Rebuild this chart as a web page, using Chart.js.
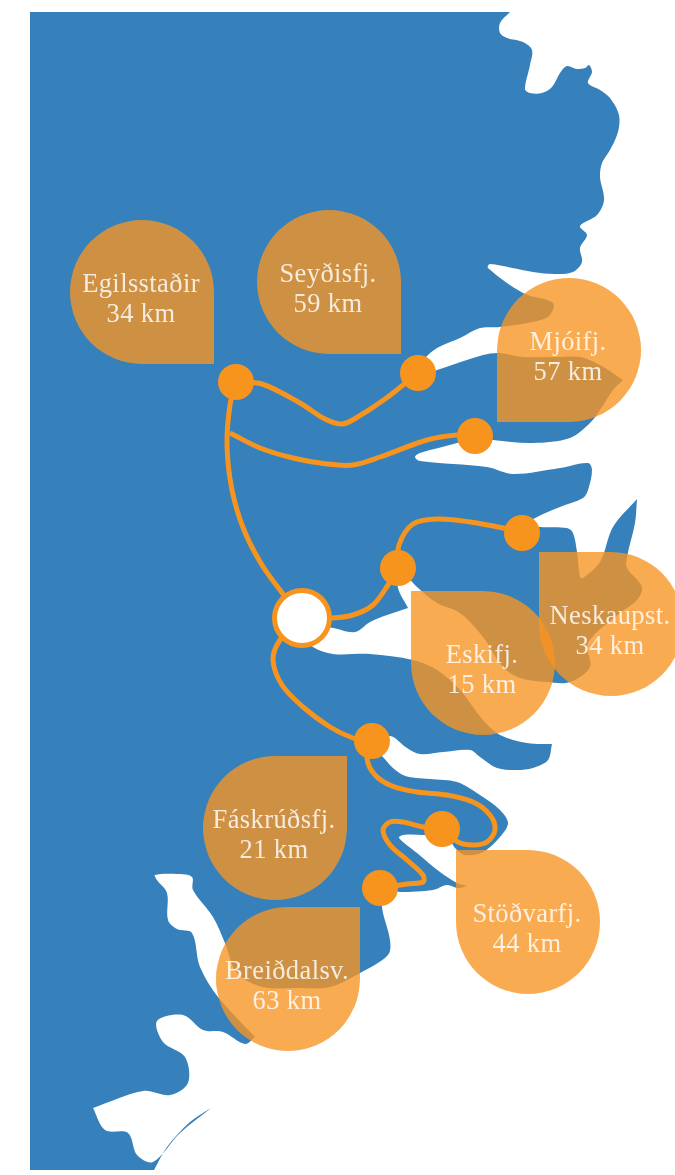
<!DOCTYPE html>
<html>
<head>
<meta charset="utf-8">
<style>
  html, body { margin: 0; padding: 0; background: #fff; }
  canvas { display: block; }
</style>
<script src="https://cdn.jsdelivr.net/npm/chart.js@4"></script>
</head>
<body>
<canvas id="map" width="675" height="1175"></canvas>
<script>
// outline of the land, clockwise. doubled points are sharp corners
const coastNorth = [[30,12],[30,12],[510,12],[510,12],[500,23],[500,33],[507,38],[523,42],[532,50],[530,65],[525,89],[530,93],[542,93],[552,87],[560,73],[567,66],[577,69],[585,68],[589,65],[592,72],[588,83],[600,90],[610,98],[619,115],[618,132],[610,150],[602,163],[600,177],[604,200],[597,215],[580,226],[587,235],[580,248],[582,262],[573,272],[555,274],[533,272],[490,264],[488,268],[523,293],[553,303]];
const coastMjoi = [[553,303],[550,315],[537,321],[500,327],[480,328],[460,338],[437,348],[425,358],[418,366],[425,374],[437,370],[483,355],[500,353],[523,357],[557,357],[580,357],[600,365],[623,380],[623,380],[613,390],[600,410],[590,423],[570,438],[533,443],[493,440],[475,436],[457,443],[420,453],[415,457],[420,461],[487,467],[513,474],[560,468],[588,463],[592,470],[588,490],[583,498],[560,507],[537,517],[525,525],[540,527],[567,528],[573,533],[577,552],[580,577],[583,578],[600,562],[613,527],[637,499],[637,499],[635,523],[627,557],[627,568],[642,587],[637,600],[620,613],[588,643]];
const coastEski = [[588,643],[590,667],[570,682],[547,682],[520,678],[503,667],[483,637],[460,613],[437,603],[417,587],[410,580],[400,575],[398,588],[408,608],[408,608],[387,615],[370,622],[355,632],[333,628],[310,625],[305,635],[313,647],[333,654],[370,654],[413,660],[437,670],[460,690],[483,720],[500,735],[527,743],[552,744],[552,744],[548,760],[533,768],[517,770],[497,768],[480,757],[470,750],[443,752],[420,754],[407,748],[390,736],[378,745],[383,757],[403,775]];
const coastSouth = [[403,775],[430,779],[457,782],[480,795],[500,810],[508,823],[500,837],[483,852],[465,855],[455,848],[448,838],[423,835],[403,835],[399,838],[417,853],[440,872],[457,883],[467,886],[467,886],[458,888],[447,885],[433,890],[400,892],[385,890],[382,907],[390,940],[388,955],[360,973],[330,987],[297,988],[263,987],[237,973],[225,943],[213,917],[193,890],[192,877],[177,874],[155,875],[157,880],[167,893],[168,920],[177,929],[192,933],[200,967],[218,997],[255,1037],[255,1037],[245,1044],[223,1032],[203,1030],[183,1015],[157,1021],[163,1042],[185,1057],[188,1083],[170,1095],[143,1091],[93,1108],[93,1108],[105,1130],[128,1133],[137,1155],[153,1162],[180,1133],[211,1108],[211,1108],[190,1122],[167,1147],[154,1170],[154,1170],[30,1170],[30,1170]];

// roads
const roadSeydis = [[236,382],[262,384],[300,403],[325,419],[342,424],[356,418],[385,399],[418,373]];
const roadEgils = [[302,618],[283,594],[262,565],[244,530],[232,490],[227,445],[230,405],[236,382]];
const roadMjoi = [[230,433],[260,448],[293,458],[327,464],[353,465],[380,457],[427,440],[457,435],[475,436]];
const roadEski = [[302,618],[332,618],[353,615],[373,605],[388,585],[398,568]];
const roadNes = [[398,568],[399,545],[413,524],[437,519],[470,522],[503,528],[522,533]];
const roadFask = [[302,618],[280,640],[273,660],[282,685],[303,707],[330,727],[353,738],[372,741]];
const roadSouth = [[372,741],[367,758],[375,775],[392,786],[417,792],[447,795],[473,802],[490,815],[495,830],[487,842],[473,845],[458,842],[442,829],[423,827],[403,822],[390,822],[383,830],[390,845],[407,860],[423,875],[423,882],[407,884],[380,888]];

const towns = [[236,382],[418,373],[475,436],[522,533],[398,568],[372,741],[442,829],[380,888]];
const hub = [[302,618]];

const placeNames = ["Egilsstaðir","Seyðisfj.","Mjóifj.","Neskaupst.","Eskifj.","Fáskrúðsfj.","Breiðdalsv.","Stöðvarfj."];
const distances = ["34 km","59 km","57 km","34 km","15 km","21 km","63 km","44 km"];
const dropCentres = [[142,292],[329,282],[569,350],[611,624],[483,663],[275,828],[288,979],[528,922]];
const dropRotations = [0,0,90,180,180,270,270,180];

const BLUE = "#3680BB";
const ORANGE = "#F7941E";

// teardrop: circle with the bottom right corner squared off
function makeDrop() {
  const c = document.createElement("canvas");
  c.width = 144;
  c.height = 144;
  const g = c.getContext("2d");
  g.fillStyle = "rgba(247,148,34,0.79)";
  g.beginPath();
  g.moveTo(144, 144);
  g.lineTo(72, 144);
  g.arc(72, 72, 72, Math.PI / 2, Math.PI * 2, false);
  g.closePath();
  g.fill();
  return c;
}

function xy(list) {
  return list.map(p => ({ x: p[0], y: p[1] }));
}

function road(list) {
  return {
    type: "scatter",
    data: xy(list),
    showLine: true,
    fill: false,
    borderColor: ORANGE,
    borderWidth: 5,
    tension: 0.33,
    pointRadius: 0,
    order: 4
  };
}

const labelPlugin = {
  id: "dropLabels",
  afterDatasetsDraw(chart) {
    const g = chart.ctx;
    const { x, y } = chart.scales;
    g.save();
    g.font = "26.5px 'Liberation Serif'";
    g.letterSpacing = "0.4px";
    g.textAlign = "center";
    g.textBaseline = "alphabetic";
    g.fillStyle = "rgba(255,255,255,0.82)";
    dropCentres.forEach((p, i) => {
      const px = x.getPixelForValue(p[0]) - 1;
      const py = y.getPixelForValue(p[1]);
      g.fillText(placeNames[i], px, py);
      g.fillText(distances[i], px, py + 30);
    });
    g.restore();
  }
};

const ctx = document.getElementById("map").getContext("2d");
const dropImage = makeDrop();

new Chart(ctx, {
  type: "scatter",
  data: {
    datasets: [
      {
        data: xy(dropCentres),
        pointStyle: dropImage,
        pointRadius: 72,
        rotation: c => dropRotations[c.dataIndex],
        order: 1
      },
      {
        data: xy(hub),
        pointRadius: 27.5,
        backgroundColor: "#fff",
        borderColor: ORANGE,
        borderWidth: 5,
        order: 2
      },
      {
        data: xy(towns),
        pointRadius: 18,
        backgroundColor: ORANGE,
        borderWidth: 0,
        order: 3
      },
      road(roadSeydis),
      road(roadEgils),
      road(roadMjoi),
      road(roadEski),
      road(roadNes),
      road(roadFask),
      road(roadSouth),
      {
        data: xy(coastNorth.concat(coastMjoi.slice(1), coastEski.slice(1), coastSouth.slice(1))),
        showLine: true,
        fill: "shape",
        backgroundColor: BLUE,
        borderWidth: 0,
        tension: 0.33,
        pointRadius: 0,
        order: 9
      }
    ]
  },
  options: {
    responsive: false,
    animation: false,
    events: [],
    layout: { padding: 0, autoPadding: false },
    elements: { line: { capBezierPoints: false } },
    plugins: { legend: { display: false }, tooltip: { enabled: false } },
    scales: {
      x: { type: "linear", min: 0, max: 675, display: false },
      y: { type: "linear", min: 0, max: 1175, reverse: true, display: false }
    }
  },
  plugins: [labelPlugin]
});
</script>
</body>
</html>
